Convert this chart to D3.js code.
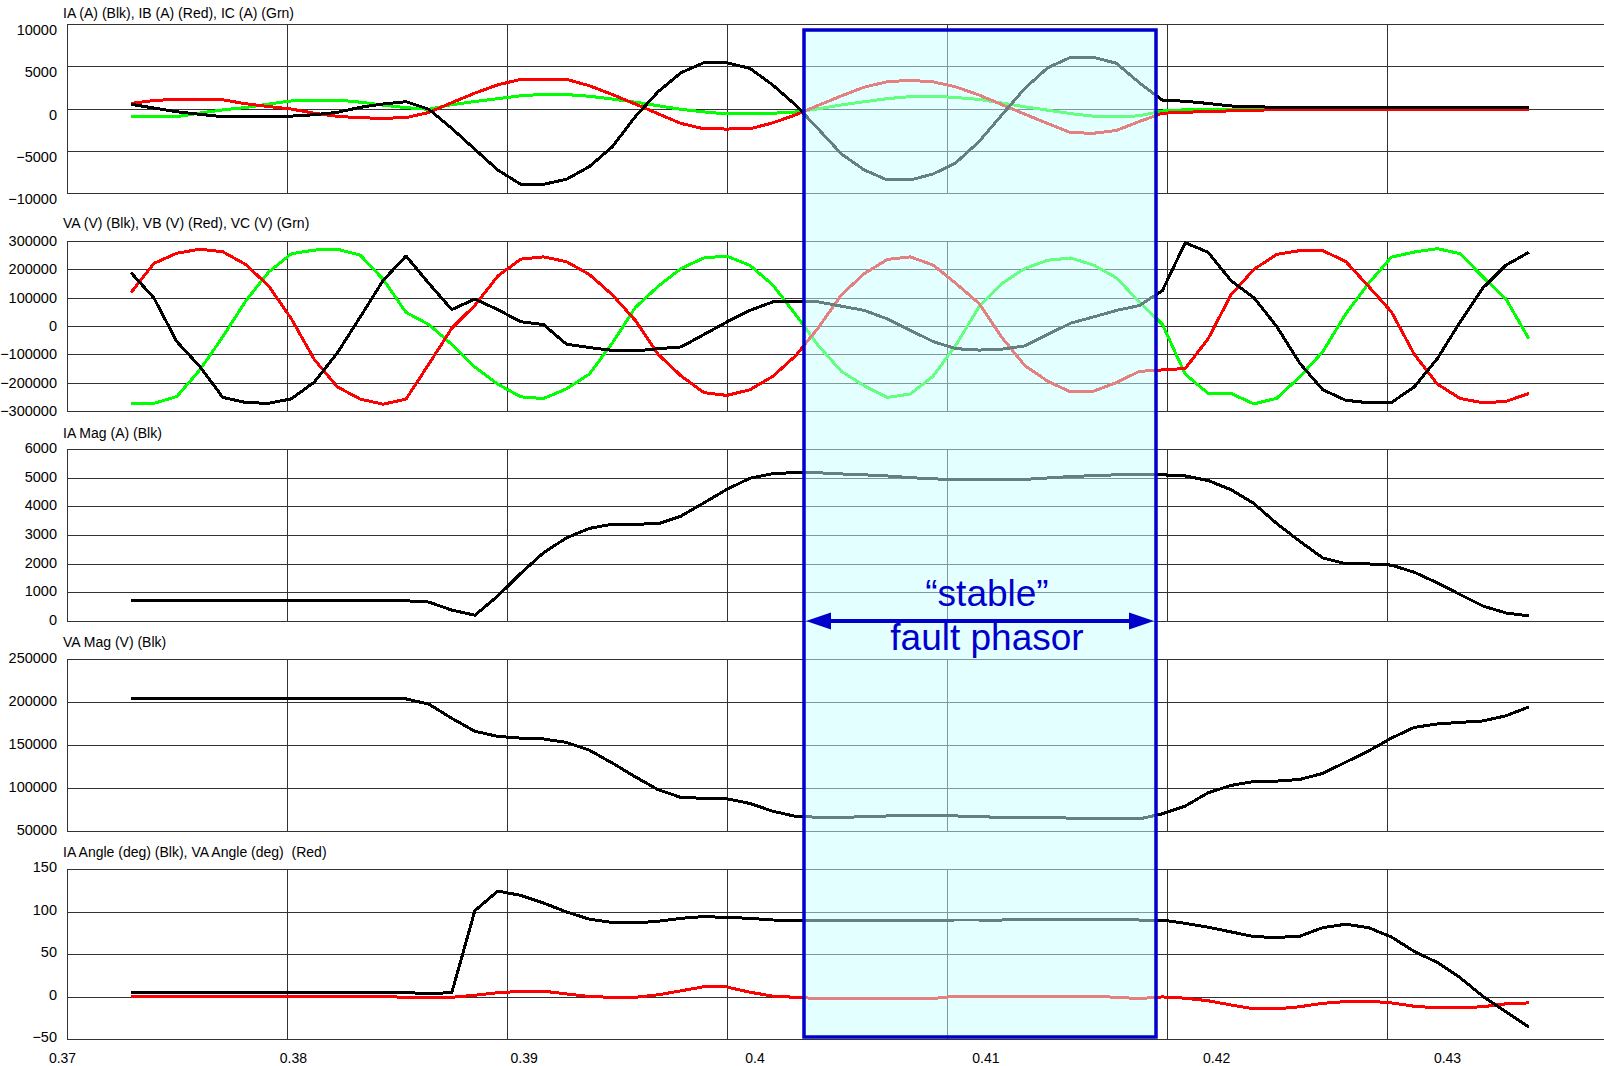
<!DOCTYPE html>
<html>
<head>
<meta charset="utf-8">
<script src="https://cdn.jsdelivr.net/npm/d3@7"></script>
<style>
  body { margin: 0; background: #fff; }
  svg { display: block; }
  text { font-family: "Liberation Sans", Arial, sans-serif; }
</style>
</head>
<body>
<script>

// sample times (s), 16 samples per cycle
var time = [0.37291,0.37395,0.37499,0.37604,0.37708,0.37812,0.37916,0.38020,0.38124,0.38229,
            0.38333,0.38437,0.38541,0.38645,0.38749,0.38854,0.38958,0.39062,0.39166,0.39270,
            0.39374,0.39479,0.39583,0.39687,0.39791,0.39895,0.39999,0.40104,0.40208,0.40312,
            0.40416,0.40520,0.40624,0.40729,0.40833,0.40937,0.41041,0.41145,0.41249,0.41354,
            0.41458,0.41562,0.41666,0.41770,0.41874,0.41979,0.42083,0.42187,0.42291,0.42395,
            0.42499,0.42604,0.42708,0.42812,0.42916,0.43020,0.43124,0.43229,0.43333,0.43437,
            0.43541,0.43645];

// phase currents (A)
var iaA = [500,50,-380,-690,-970,-970,-970,-900,-740,-450,
           140,530,800,-100,-2350,-4830,-7280,-8970,-8970,-8380,
           -6880,-4520,-970,1990,4240,5420,5420,4750,2780,410,
           -2460,-5380,-7280,-8460,-8460,-7750,-6410,-3930,-770,2390,
           4830,6060,6060,5350,3050,1000,850,600,300,200,
           150,150,150,150,150,150,150,150,150,150,
           150,150];
var ibA = [600,950,1090,1090,1030,560,230,-70,-560,-930,
           -1100,-1160,-1080,-470,690,1820,2800,3450,3490,3450,
           2700,1650,530,-630,-1770,-2400,-2430,-2400,-1700,-750,
           390,1490,2530,3170,3330,3150,2550,1600,460,-670,
           -1780,-2860,-2930,-2600,-1540,-560,-450,-350,-280,-200,
           -150,-130,-120,-110,-100,-100,-100,-100,-100,-100,
           -100,-100];
var icA = [-970,-970,-970,-540,-170,120,530,900,950,1000,
           750,400,100,-100,450,830,1170,1500,1680,1650,
           1450,1120,750,330,-100,-400,-650,-650,-560,-410,
           -30,420,800,1170,1400,1450,1300,1080,660,200,
           -200,-600,-910,-970,-870,-300,-150,-100,-100,-80,
           -60,-50,-50,-50,-50,-50,-50,-50,-50,-50,
           -50,-50];

// phase voltages (V)
var vaV = [188000,99000,-55000,-143000,-252000,-270000,-273000,-257000,-198000,-95000,
           32000,161000,247000,150000,58000,95000,58000,15000,5000,-64000,
           -76000,-86000,-88000,-80000,-74000,-30000,14000,55000,85000,87000,
           85000,70000,55000,25000,-15000,-55000,-80000,-85000,-82000,-70000,
           -30000,10000,32000,55000,72000,125000,294000,260000,160000,100000,
           -2000,-132000,-225000,-262000,-271000,-270000,-215000,-115000,15000,135000,
           215000,260000];
var vbV = [118000,221000,257000,271000,262000,217000,142000,25000,-118000,-215000,
           -258000,-276000,-258000,-134000,-8000,73000,176000,236000,244000,227000,
           182000,110000,20000,-100000,-176000,-235000,-245000,-225000,-178000,-105000,
           -5000,110000,185000,235000,244000,215000,150000,80000,-40000,-140000,
           -195000,-233000,-230000,-200000,-160000,-155000,-150000,-45000,110000,200000,
           253000,266000,266000,228000,140000,50000,-100000,-205000,-256000,-271000,
           -266000,-238000];
var vcV = [-275000,-273000,-249000,-155000,-38000,88000,190000,255000,268000,271000,
           250000,165000,48000,5000,-65000,-145000,-205000,-250000,-256000,-222000,
           -170000,-60000,65000,140000,203000,240000,247000,214000,145000,40000,
           -70000,-160000,-211000,-252000,-240000,-177000,-67000,67000,150000,203000,
           232000,240000,215000,170000,85000,6000,-170000,-238000,-238000,-275000,
           -255000,-179000,-91000,42000,150000,243000,261000,273000,255000,172000,
           95000,-45000];

// phasor magnitudes
var iaMag = [720,720,720,720,720,720,720,720,720,720,
             720,720,705,660,380,203,870,1660,2380,2900,
             3230,3379,3379,3390,3660,4120,4590,4980,5140,5180,
             5170,5130,5100,5060,5000,4960,4930,4925,4925,4940,
             4990,5040,5070,5100,5110,5100,5060,4900,4580,4100,
             3400,2780,2200,2000,1990,1950,1700,1330,920,520,
             280,178];
var vaMag = [204000,204000,204000,204000,204000,204000,204000,204000,204000,204000,
             204000,204000,203600,197500,181000,166000,160000,158000,157000,153000,
             144000,129000,113000,98000,89000,88000,87500,82000,73000,67000,
             66000,66000,66500,67500,68000,68000,67500,66500,66000,65500,
             65500,65000,64500,64000,64000,70000,79000,94500,103000,107500,
             108000,110000,117000,130000,143000,158000,170500,174500,176300,178000,
             184000,194300];

// phasor angles (deg)
var iaAng = [4.5,4.5,4.5,4.5,4.5,4.5,4.5,4.5,4.5,4.5,
             4.5,4.5,4.5,3.5,4.5,101,124,119,110,99.5,
             91,87,86.5,88.5,92,94,93,92,90,89.5,
             89.5,89.5,89.5,89.5,89.5,89.8,90,90,90,90.5,
             91,91,91,91,90,90,86,81.5,76,70.5,
             69.4,71,81,85,81,70,53,40,22,0,
             -18,-36];
var vaAng = [0,0,0,0,0,0,0,0,0,0,
             0,0,-1,-1,-1,1.5,4.5,6,6.3,3,
             0,-1,-1,2,6.7,11.5,11.2,5,0.5,-1,
             -2.4,-2.4,-2.4,-2.4,-2.4,-2.4,0.4,0.4,0.4,0.4,
             0.4,0.4,0.4,-1,-2.4,-0.5,-2,-5,-10,-14.5,
             -14.5,-12,-8,-6,-5.5,-7.5,-11.5,-13.3,-13.3,-12,
             -8.6,-7.5];

// axes
var iTicks = [10000, 5000, 0, -5000, -10000];
var vTicks = [300000, 200000, 100000, 0, -100000, -200000, -300000];
var iMagTicks = [6000, 5000, 4000, 3000, 2000, 1000, 0];
var vMagTicks = [250000, 200000, 150000, 100000, 50000];
var angTicks = [150, 100, 50, 0, -50];
var xGrid = [0.38, 0.39, 0.40, 0.41, 0.42, 0.43];
var xLabels = [0.37, 0.38, 0.39, 0.40, 0.41, 0.42, 0.43];
var xLabelText = ["0.37", "0.38", "0.39", "0.4", "0.41", "0.42", "0.43"];

var titles = ["IA (A) (Blk), IB (A) (Red), IC (A) (Grn)",
              "VA (V) (Blk), VB (V) (Red), VC (V) (Grn)",
              "IA Mag (A) (Blk)",
              "VA Mag (V) (Blk)",
              "IA Angle (deg) (Blk), VA Angle (deg)  (Red)"];

// the "stable" window
var faultStart = 0.4035;
var faultEnd = 0.4195;

//------------------------------------------------------------

var width = 1604, height = 1066;
var plotLeft = 67;

var svg = d3.select("body").append("svg")
    .attr("width", width)
    .attr("height", height);

var x = d3.scaleLinear().domain([0.37, 0.44]).range([plotLeft, 1607]);
// tick labels of the original are spaced a bit wider than the grid
var xLabel = d3.scaleLinear().domain([0.37, 0.43]).range([62, 1447]);

var red = "#ff0000", green = "#00ff00", black = "#000000";

var panels = [
  {title: titles[0], domain: [-10000, 10000], ticks: iTicks, top: 24, bottom: 193, titleY: 18, dy: 6,
   series: [[icA, green], [ibA, red], [iaA, black]]},
  {title: titles[1], domain: [-300000, 300000], ticks: vTicks, top: 241, bottom: 411, titleY: 228, dy: 0,
   series: [[vcV, green], [vbV, red], [vaV, black]]},
  {title: titles[2], domain: [0, 6000], ticks: iMagTicks, top: 449, bottom: 621, titleY: 438, dy: -1,
   series: [[iaMag, black]]},
  {title: titles[3], domain: [50000, 250000], ticks: vMagTicks, top: 659, bottom: 831, titleY: 647, dy: -1,
   series: [[vaMag, black]]},
  {title: titles[4], domain: [-50, 150], ticks: angTicks, top: 869, bottom: 1039, titleY: 857, dy: -2,
   series: [[vaAng, red], [iaAng, black]]}
];

panels.forEach(function(p) {
  var y = d3.scaleLinear().domain(p.domain).range([p.bottom, p.top]);
  var g = svg.append("g");

  //title
  g.append("text")
      .attr("x", 63)
      .attr("y", p.titleY)
      .attr("font-size", 14)
      .attr("fill", "#000")
      .style("white-space", "pre")
      .text(p.title);

  //horizontal grid
  g.selectAll(".hgrid").data(p.ticks).enter().append("line")
      .attr("x1", plotLeft)
      .attr("x2", width)
      .attr("y1", function(d) { return Math.round(y(d)) + 0.5; })
      .attr("y2", function(d) { return Math.round(y(d)) + 0.5; })
      .attr("stroke", "#333")
      .attr("stroke-width", 1);

  //vertical grid and left border
  g.selectAll(".vgrid").data([0.37].concat(xGrid)).enter().append("line")
      .attr("x1", function(d) { return Math.round(x(d)) + 0.5; })
      .attr("x2", function(d) { return Math.round(x(d)) + 0.5; })
      .attr("y1", Math.round(y(p.domain[1])))
      .attr("y2", Math.round(y(p.domain[0])) + 1)
      .attr("stroke", "#333")
      .attr("stroke-width", 1);

  //y tick labels
  var axis = g.append("g")
      .attr("transform", "translate(57," + p.dy + ")")
      .call(d3.axisLeft(y).tickValues(p.ticks).tickSize(0).tickPadding(0).tickFormat(d3.format("d")));
  axis.select(".domain").remove();
  axis.selectAll("text")
      .attr("font-size", 14.5)
      .attr("font-family", "Liberation Sans, Arial, sans-serif")
      .attr("fill", "#000");

  //traces
  var line = d3.line()
      .x(function(d, i) { return x(time[i]); })
      .y(function(d) { return y(d); });

  p.series.forEach(function(s) {
    g.append("path")
        .datum(s[0])
        .attr("d", line)
        .attr("fill", "none")
        .attr("stroke", s[1])
        .attr("stroke-width", 3)
        .attr("stroke-linejoin", "round")
        .attr("shape-rendering", "crispEdges");
  });
});

//x tick labels
var xAxis = svg.append("g")
    .attr("transform", "translate(0,1053)")
    .call(d3.axisBottom(xLabel).tickValues(xLabels).tickSize(0).tickPadding(0)
      .tickFormat(function(d, i) { return xLabelText[i]; }));
xAxis.select(".domain").remove();
xAxis.selectAll("text")
    .attr("font-size", 14)
    .attr("font-family", "Liberation Sans, Arial, sans-serif")
    .attr("fill", "#000");

//highlight box over the stable window
var boxTop = 30, boxBottom = 1037;
var x0 = x(faultStart), x1 = x(faultEnd);
var blue = "#0000cc";

svg.append("rect")
    .attr("x", x0)
    .attr("y", boxTop)
    .attr("width", x1 - x0)
    .attr("height", boxBottom - boxTop)
    .attr("fill", "rgb(200,255,255)")
    .attr("fill-opacity", 0.5);

svg.append("rect")
    .attr("x", x0)
    .attr("y", boxTop)
    .attr("width", x1 - x0)
    .attr("height", boxBottom - boxTop)
    .attr("fill", "none")
    .attr("stroke", blue)
    .attr("stroke-width", 3.5);

//double headed arrow
var arrowY = 621, headLen = 25, headHalf = 8.5;
var a0 = x0 + 2, a1 = x1 - 2;
svg.append("line")
    .attr("x1", a0 + headLen - 2)
    .attr("x2", a1 - headLen + 2)
    .attr("y1", arrowY)
    .attr("y2", arrowY)
    .attr("stroke", blue)
    .attr("stroke-width", 4);
svg.append("path")
    .attr("d", "M" + a0 + "," + arrowY + "L" + (a0 + headLen) + "," + (arrowY - headHalf) +
               "L" + (a0 + headLen) + "," + (arrowY + headHalf) + "Z")
    .attr("fill", blue);
svg.append("path")
    .attr("d", "M" + a1 + "," + arrowY + "L" + (a1 - headLen) + "," + (arrowY - headHalf) +
               "L" + (a1 - headLen) + "," + (arrowY + headHalf) + "Z")
    .attr("fill", blue);

//annotation
var labelX = (x0 + x1) / 2 + 7;
svg.append("text")
    .attr("x", labelX)
    .attr("y", 606)
    .attr("text-anchor", "middle")
    .attr("font-size", 37)
    .attr("fill", blue)
    .text("\u201cstable\u201d");
svg.append("text")
    .attr("x", labelX)
    .attr("y", 650)
    .attr("text-anchor", "middle")
    .attr("font-size", 37)
    .attr("fill", blue)
    .text("fault phasor");

</script>
</body>
</html>
